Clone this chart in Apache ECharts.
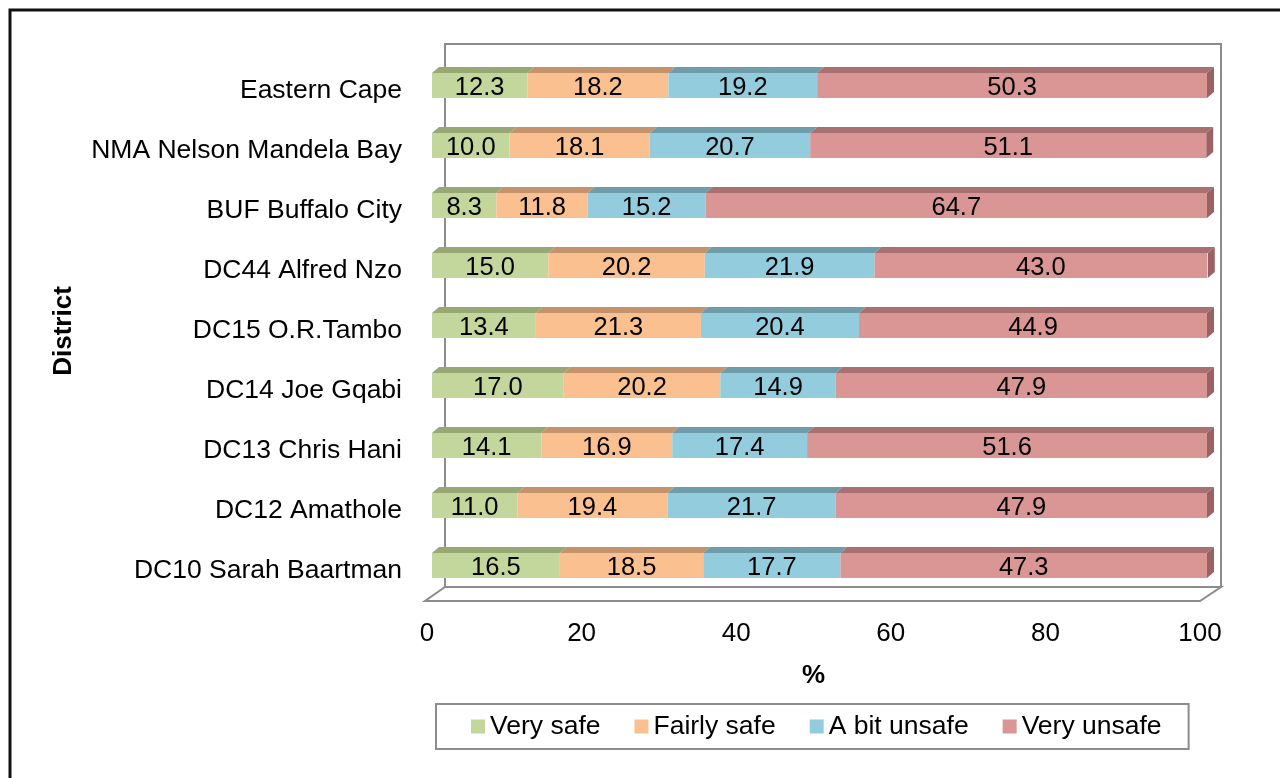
<!DOCTYPE html>
<html lang="en">
<head>
  <meta charset="UTF-8">
  <script src="https://cdn.jsdelivr.net/npm/echarts@6/dist/echarts.min.js"></script>
  <style>
    html, body { margin: 0; background: #fff; }
    #chart { width: 1280px; height: 778px; }
  </style>
</head>
<body>
  <div id="chart"></div>
  <script>
    // categories, top to bottom
    var districts = ['Eastern Cape', 'NMA Nelson Mandela Bay', 'BUF Buffalo City', 'DC44 Alfred Nzo',
      'DC15 O.R.Tambo', 'DC14 Joe Gqabi', 'DC13 Chris Hani', 'DC12 Amathole', 'DC10 Sarah Baartman'];
    var verySafe    = [12.3, 10.0, 8.3, 15.0, 13.4, 17.0, 14.1, 11.0, 16.5];
    var fairlySafe  = [18.2, 18.1, 11.8, 20.2, 21.3, 20.2, 16.9, 19.4, 18.5];
    var bitUnsafe   = [19.2, 20.7, 15.2, 21.9, 20.4, 14.9, 17.4, 21.7, 17.7];
    var veryUnsafe  = [50.3, 51.1, 64.7, 43.0, 44.9, 47.9, 51.6, 47.9, 47.3];
    var seriesNames = ['Very safe', 'Fairly safe', 'A bit unsafe', 'Very unsafe'];
    var xTicks = [0, 20, 40, 60, 80, 100];

    var faceColors = ['#c3d69b', '#fac090', '#93cddd', '#d99694'];
    var topColors  = ['#98a874', '#c4936c', '#6e9ca8', '#a87070'];
    var sideColor  = '#9a6262';

    var chart = echarts.init(document.getElementById('chart'), null, { renderer: 'canvas' });

    // cumulative start/end of each segment for the 3D top faces
    var allVals = [verySafe, fairlySafe, bitUnsafe, veryUnsafe];
    var faceData = [];
    districts.forEach(function (d, i) {
      var acc = 0;
      allVals.forEach(function (arr, s) {
        faceData.push([i, acc, acc + arr[i], s]);
        acc += arr[i];
      });
    });

    var DX = 7, DY = 6, HALF = 12.5;

    var series = allVals.map(function (arr, s) {
      return {
        name: seriesNames[s],
        type: 'bar',
        stack: 'total',
        xAxisIndex: 0,
        yAxisIndex: 0,
        barWidth: 25,
        data: arr,
        itemStyle: { color: faceColors[s] },
        label: {
          show: true,
          position: 'inside',
          offset: [0, 2],
          color: '#000',
          fontFamily: 'Liberation Sans, Arial, sans-serif',
          fontSize: 25.5,
          formatter: function (p) { return p.value.toFixed(1); }
        }
      };
    });

    series.push({
      type: 'custom',
      xAxisIndex: 0,
      yAxisIndex: 0,
      silent: true,
      data: faceData,
      encode: { x: [1, 2], y: 0 },
      renderItem: function (params, api) {
        var cat = api.value(0), s = api.value(3);
        var a = api.coord([api.value(1), cat]);
        var b = api.coord([api.value(2), cat]);
        var yt = a[1] - HALF, yb = a[1] + HALF;
        var children = [{
          type: 'polygon',
          shape: { points: [[a[0], yt], [b[0], yt], [b[0] + DX, yt - DY], [a[0] + DX, yt - DY]] },
          style: { fill: topColors[s] }
        }];
        if (s === 3) {
          children.push({
            type: 'polygon',
            shape: { points: [[b[0], yt], [b[0] + DX, yt - DY], [b[0] + DX, yb - DY], [b[0], yb]] },
            style: { fill: sideColor }
          });
        }
        return { type: 'group', children: children };
      }
    });

    var wall = '#8c8c8c';

    var option = {
      backgroundColor: '#fff',
      animation: false,
      textStyle: { fontFamily: 'Liberation Sans, Arial, sans-serif' },
      graphic: [
        // outer frame (top and left only)
        { type: 'polyline', shape: { points: [[10, 778], [10, 10], [1280, 10]] },
          style: { stroke: '#111', lineWidth: 3, fill: null }, z: 0 },
        // back wall
        { type: 'rect', shape: { x: 445, y: 44, width: 776, height: 543 },
          style: { stroke: wall, lineWidth: 2, fill: null }, z: 0 },
        // floor
        { type: 'polygon', shape: { points: [[425, 601], [1200, 601], [1221, 587], [445, 587]] },
          style: { stroke: wall, lineWidth: 2, fill: null }, z: 0 }
      ],
      legend: {
        data: seriesNames,
        left: 436,
        top: 704,
        orient: 'horizontal',
        padding: [9, 27, 9, 35],
        itemWidth: 14,
        itemHeight: 14,
        itemGap: 34,
        borderColor: wall,
        borderWidth: 2,
        icon: 'rect',
        textStyle: { fontSize: 26.5, color: '#000' }
      },
      grid: [
        { left: 432, right: 73, top: 55.5, bottom: 182.5 },
        { left: 427, right: 80, top: 61, bottom: 177 }
      ],
      xAxis: [
        { gridIndex: 0, type: 'value', min: 0, max: 100, show: false },
        {
          gridIndex: 1, type: 'value', min: 0, max: 100, interval: 20,
          axisLine: { show: false }, axisTick: { show: false }, splitLine: { show: false },
          axisLabel: {
            color: '#000', fontSize: 26, margin: 20,
            formatter: function (v) { return xTicks.indexOf(v) >= 0 ? String(v) : ''; }
          },
          name: '%', nameLocation: 'middle', nameGap: 62,
          nameTextStyle: { fontSize: 26, fontWeight: 'bold', color: '#000' }
        }
      ],
      yAxis: [
        { gridIndex: 0, type: 'category', data: districts, inverse: true, show: false },
        {
          gridIndex: 1, type: 'category', data: districts, inverse: true,
          axisLine: { show: false }, axisTick: { show: false },
          axisLabel: { color: '#000', fontSize: 26.5, margin: 25 },
          name: 'District', nameLocation: 'middle', nameRotate: 90, nameGap: 350,
          nameTextStyle: { fontSize: 26, fontWeight: 'bold', color: '#000' }
        }
      ],
      series: series
    };

    chart.setOption(option);
  </script>
</body>
</html>
